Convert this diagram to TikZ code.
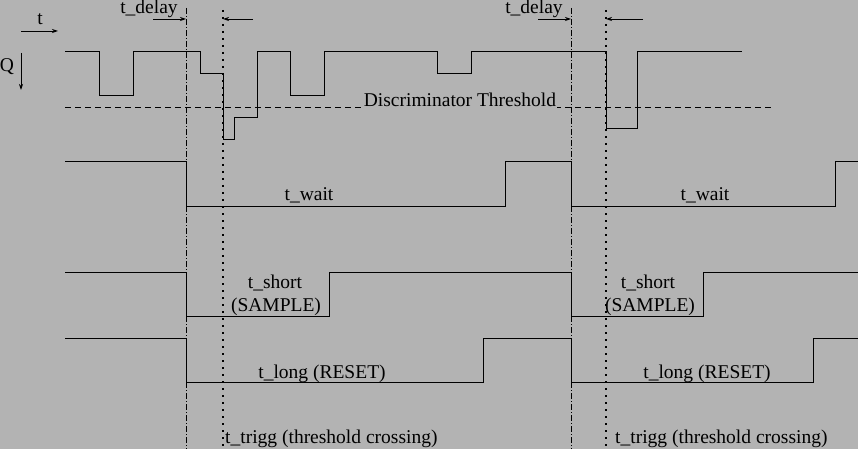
\documentclass[tikz,border=0pt]{standalone}
\usepackage{fontspec}
\setmainfont{Liberation Serif}
\usetikzlibrary{positioning,calc,arrows.meta}
\definecolor{figgray}{RGB}{179,179,179}
\begin{document}
\begin{tikzpicture}[x=1pt,y=-1pt,font=\fontsize{19.5}{22}\selectfont,>={Stealth[length=6pt,width=4pt]},
          sig/.style={line width=1pt},
          lbl/.style={inner sep=0pt,anchor=base},
          dashdot/.style={line width=0.8pt,dash pattern=on 6pt off 2pt on 1pt off 2pt},
          dots/.style={line width=1.8pt,dash pattern=on 1.8pt off 5.2pt},
          thr/.style={line width=0.8pt,dash pattern=on 6pt off 4pt}]
        \fill[figgray] (0,0) rectangle (858,449);
        \useasboundingbox (0,0) rectangle (858,449);
        % axes
        \node[lbl] (tlab) at (40,25) {t};
        \node[lbl] (qlab) at (7,72) {Q};
        \coordinate (ta) at (21,31); \coordinate (tb) at (58,31);
        \coordinate (qa) at (21,53); \coordinate (qb) at (21,90);
        \draw[->,line width=0.8pt] (ta) -- (tb);
        \draw[->,line width=0.8pt] (qa) -- (qb);
        % time marks
        \coordinate (del1) at (186,8);  \coordinate (del1b) at (186,449);
        \coordinate (trg1) at (223,10); \coordinate (trg1b) at (223,449);
        \coordinate (del2) at (571,8);  \coordinate (del2b) at (571,449);
        \coordinate (trg2) at (606,10); \coordinate (trg2b) at (606,449);
        \draw[dashdot] (del1) -- (del1b);
        \draw[dashdot] (del2) -- (del2b);
        \draw[dots] (trg1) -- (trg1b);
        \draw[dots] (trg2) -- (trg2b);
        \node[lbl] (dl1) at (149,14) {t\_delay};
        \node[lbl] (dl2) at (534,14) {t\_delay};
        \draw[->,line width=0.8pt] (153,19) -- (del1 |- 0,19);
        \draw[->,line width=0.8pt] (253,19) -- (trg1 |- 0,19);
        \draw[->,line width=0.8pt] (538,19) -- (del2 |- 0,19);
        \draw[->,line width=0.8pt] (643,19) -- (trg2 |- 0,19);
        % threshold
        \coordinate (tha) at (65,107); \coordinate (thb) at (774,107);
        \draw[thr] (tha) -- (thb);
        \node[lbl,fill=figgray,inner sep=1pt] (thlab) at (460,107) {Discriminator Threshold};
        % signals
        \draw[sig] (65,52) -| (99,96) -| (133,52) -| (200,74) -| (223,140) -| (234,118) -| (257,52)
              -| (290,96) -| (324,52) -| (437,74) -| (471,52) -| (606,129) -| (637,52) -- (742,52);
        \draw[sig] (65,162) -| (186,206) -| (505,162) -| (571,206) -| (835,162) -- (858,162);
        \draw[sig] (65,272) -| (186,316) -| (329,272) -| (571,316) -| (703,272) -- (858,272);
        \draw[sig] (65,338) -| (186,382) -| (483,338) -| (571,382) -| (813,338) -- (858,338);
        \node[lbl] (wait1) at (309,200) {t\_wait};
        \node[lbl] (wait2) at (705,200) {t\_wait};
        \node[lbl] (short1) at (275,288) {t\_short};
        \node[lbl] (samp1) at (276,311) {(SAMPLE)};
        \node[lbl] (short2) at (648,288) {t\_short};
        \node[lbl] (samp2) at (650,311) {(SAMPLE)};
        \node[lbl] (long1) at (322,378) {t\_long (RESET)};
        \node[lbl] (long2) at (707,378) {t\_long (RESET)};
        \node[lbl,anchor=base west] (trig1) at (225,443) {t\_trigg (threshold crossing)};
        \node[lbl,anchor=base west] (trig2) at (615,443) {t\_trigg (threshold crossing)};
      \end{tikzpicture}
\end{document}
